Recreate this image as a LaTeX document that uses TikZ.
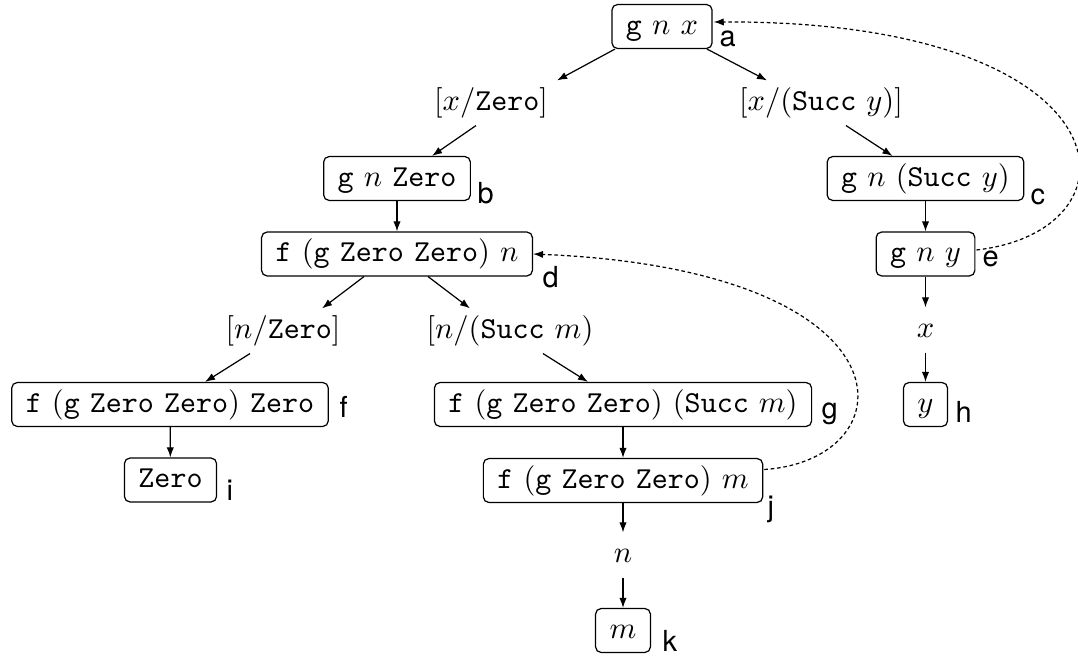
\documentclass[tikz,border=0pt]{standalone}
\usepackage{fontspec}
\newfontfamily\tagfont{TeX Gyre Heros}
\usetikzlibrary{arrows.meta,calc}
\newcommand\tw[1]{\texttt{#1}}

\begin{document}
\begin{tikzpicture}[x=0.3279pt,y=-0.3279pt,
  term/.style={draw, rounded corners=1.8pt, inner xsep=4.6pt, inner ysep=2.2pt,
               text height=7.5pt, text depth=2.5pt},
  subst/.style={inner xsep=3.3pt, inner ysep=2.2pt, text height=7.5pt, text depth=2.5pt},
  tag/.style={font=\tagfont\fontsize{9.5}{11}\selectfont, inner sep=0pt, anchor=base west},
  edge/.style={-{Latex[length=3.3pt,width=2.4pt]}},
  back/.style={edge, dash pattern=on 1.2pt off 0.9pt}]

\useasboundingbox (0,0) rectangle (1078,657);

% terms of the evaluation tree
\node[term]  (a)   at (662,26.5)  {$\tw{g}\ n\ x$};
\node[subst] (lx0) at (491,103)   {$[x/\tw{Zero}]$};
\node[subst] (lx1) at (821,103)   {$[x/(\tw{Succ}\ y)]$};
\node[term]  (b)   at (397,178.5) {$\tw{g}\ n\ \tw{Zero}$};
\node[term]  (c)   at (925.5,178.5) {$\tw{g}\ n\ (\tw{Succ}\ y)$};
\node[term]  (d)   at (397,254)   {$\tw{f}\ (\tw{g}\ \tw{Zero}\ \tw{Zero})\ n$};
\node[term]  (e)   at (925.5,254) {$\tw{g}\ n\ y$};
\node[subst] (vx)  at (925.5,330) {$x$};
\node[term]  (h)   at (925.5,404.5) {$y$};
\node[subst] (ln0) at (283,331)   {$[n/\tw{Zero}]$};
\node[subst] (ln1) at (510,331)   {$[n/(\tw{Succ}\ m)$};
\node[term]  (f)   at (170,404.5) {$\tw{f}\ (\tw{g}\ \tw{Zero}\ \tw{Zero})\ \tw{Zero}$};
\node[term]  (g)   at (623,404.5) {$\tw{f}\ (\tw{g}\ \tw{Zero}\ \tw{Zero})\ (\tw{Succ}\ m)$};
\node[term]  (i)   at (170.5,480) {$\tw{Zero}$};
\node[term]  (j)   at (623,480.5) {$\tw{f}\ (\tw{g}\ \tw{Zero}\ \tw{Zero})\ m$};
\node[subst] (vn)  at (623,555)   {$n$};
\node[term]  (k)   at (623,630.5) {$m$};

% node tags
\node[tag] (ta) at (719,47)  {a};
\node[tag] (tb) at (477,204) {b};
\node[tag] (tc) at (1030,205) {c};
\node[tag] (td) at (542,288) {d};
\node[tag] (te) at (982,267) {e};
\node[tag] (tf) at (339,418) {f};
\node[tag] (tg) at (821,419) {g};
\node[tag] (th) at (955,423) {h};
\node[tag] (ti) at (226,500) {i};
\node[tag] (tj) at (767,517) {j};
\node[tag] (tk) at (662,651) {k};

% reduction steps
\draw[edge] ($(a.south)+(-47,0)$) -- ($(lx0.north)+(66,0)$);
\draw[edge] ($(a.south)+(45,0)$) -- ($(lx1.north)+(-54,0)$);
\draw[edge] ($(lx0.south)+(-15,0)$) -- ($(b.north)+(35,0)$);
\draw[edge] ($(lx1.south)+(25,0)$) -- ($(c.north)+(-33,0)$);
\draw[edge] (b) -- (d);
\draw[edge] (c) -- (e);
\draw[edge] (e) -- (vx);
\draw[edge] (vx) -- (h);
\draw[edge] ($(d.south)+(-33,0)$) -- ($(ln0.north)+(39,0)$);
\draw[edge] ($(d.south)+(31,0)$) -- ($(ln1.north)+(-40,0)$);
\draw[edge] ($(ln0.south)+(-33,0)$) -- ($(f.north)+(35,0)$);
\draw[edge] ($(ln1.south)+(33,0)$) -- ($(g.north)+(-35,0)$);
\draw[edge] (f) -- (i);
\draw[edge] (g) -- (j);
\draw[edge] (j) -- (vn);
\draw[edge] (vn) -- (k);

% back references to earlier terms
\draw[back] ($(e.east)+(1,-4)$) .. controls (1150,230) and (1130,20) .. ($(a.east)+(1,-4.5)$);
\draw[back] ($(j.east)+(1,-11)$) .. controls (910,460) and (920,270) .. (d.east);
\end{tikzpicture}
\end{document}
